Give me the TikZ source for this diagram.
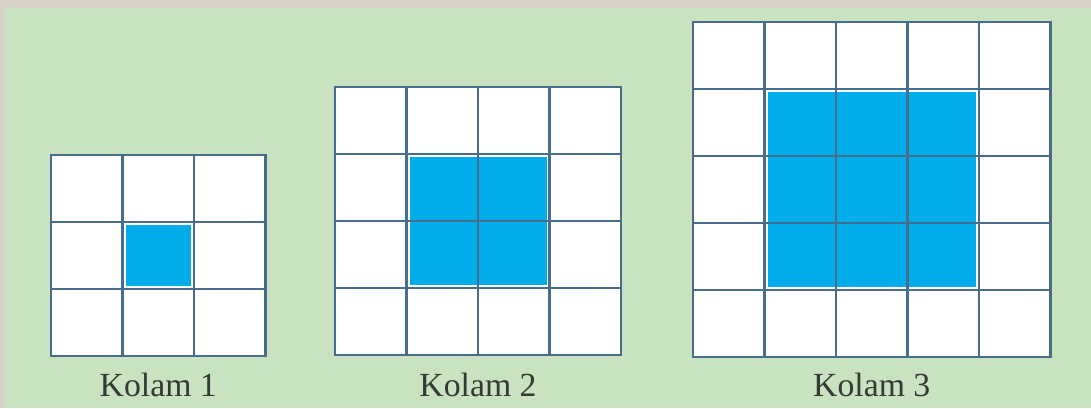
\documentclass[tikz,border=0pt]{standalone}
\usepackage{fontspec}
\setmainfont{Liberation Serif}
\usetikzlibrary{positioning}
\definecolor{rand}{RGB}{216,210,198}
\definecolor{grund}{RGB}{201,226,192}
\definecolor{gitter}{RGB}{72,108,140}
\definecolor{kolam}{RGB}{0,172,234}
\definecolor{schrift}{RGB}{52,58,52}

\begin{document}
\begin{tikzpicture}[
  x=0.025cm, y=-0.025cm,
  linie/.style={draw=gitter, line width=1.8pt, line cap=rect},
  lbl/.style={anchor=base, text=schrift, font=\fontsize{24}{28}\selectfont}
]

% Hintergrund
\fill[rand] (0,0) rectangle (1091,408);
\fill[grund] (4,8) rectangle (1091,408);
\useasboundingbox (0,0) rectangle (1091,408);

% Kolam 1 bis 3
\foreach \n/\x/\y/\k in {3/51/155/1, 4/335/87/2, 5/693/22/3} {
  \fill[white] (\x,\y) rectangle ({\x+\n*71.5},{\y+\n*67});
  \fill[kolam] ({\x+71.5+3},{\y+67+3}) rectangle ({\x+(\n-1)*71.5-3},{\y+(\n-1)*67-3});
  \foreach \i in {0,...,\n} {
    \draw[linie] ({\x+\i*71.5},\y) -- ({\x+\i*71.5},{\y+\n*67});
    \draw[linie] (\x,{\y+\i*67}) -- ({\x+\n*71.5},{\y+\i*67});
  }
  \node[lbl] (kolam\k) at ({\x+\n*35.75},396) {Kolam \k};
}

\end{tikzpicture}
\end{document}
